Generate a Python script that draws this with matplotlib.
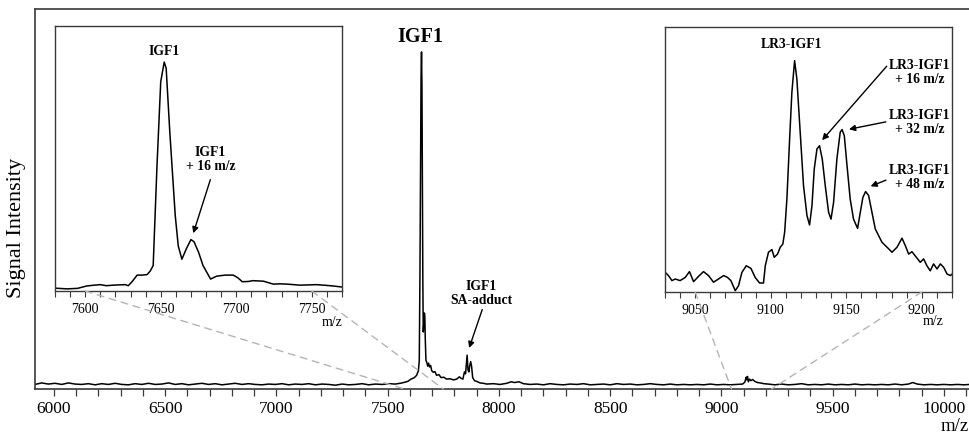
"""MALDI spectrum of IGF1 with two zoomed insets."""
import matplotlib
matplotlib.use("Agg")
import matplotlib.pyplot as plt
from matplotlib.patches import ConnectionPatch
from matplotlib.ticker import MultipleLocator

plt.rcParams["font.family"] = ["Liberation Serif", "DejaVu Serif"]

# Full spectrum (m/z, relative signal)
BASE_LEFT_MZ = [5915, 5945, 5975, 6005, 6035, 6065, 6095, 6125, 6155, 6185, 6215, 6245,
                6275, 6305, 6335, 6365, 6395, 6425, 6455, 6485, 6515, 6545, 6575, 6605,
                6635, 6665, 6695, 6725, 6755, 6785, 6815, 6845, 6875, 6905, 6935, 6965,
                6995, 7025, 7055, 7085, 7115, 7145, 7175, 7205, 7235, 7265, 7295, 7325,
                7355, 7385, 7415, 7445, 7475, 7505, 7535, 7565, 7590]
BASE_LEFT_INT = [.012, .016, .013, .015, .012, .016, .013, .012, .014, .011, .014, .012,
                 .015, .012, .011, .014, .012, .015, .012, .013, .016, .012, .014, .011,
                 .013, .015, .012, .014, .011, .013, .015, .012, .014, .012, .011, .013,
                 .012, .014, .011, .013, .012, .014, .011, .013, .012, .010, .013, .011,
                 .012, .014, .011, .013, .012, .014, .013, .016, .020]

PEAK_MZ = [7605, 7620, 7630, 7638, 7642, 7645, 7648, 7650, 7652, 7654, 7656, 7658,
           7660, 7663, 7665, 7667, 7669, 7672, 7676, 7680, 7684, 7688, 7693, 7698,
           7705, 7712, 7720, 7730, 7740, 7752, 7765, 7780, 7795, 7810, 7822, 7830,
           7838, 7845, 7850, 7854, 7857, 7861, 7865, 7869, 7873, 7877, 7882, 7890,
           7900, 7915, 7930]
PEAK_INT = [.026, .030, .036, .048, .075, .30, .62, .82, .887, .80, .55, .28,
            .15, .18, .20, .19, .13, .075, .070, .060, .068, .058, .062, .048,
            .044, .046, .036, .038, .030, .031, .026, .027, .024, .026, .032, .028,
            .026, .045, .040, .070, .089, .050, .045, .062, .072, .060, .030, .022,
            .020, .016, .015]

BASE_RIGHT_MZ = [7945, 7975, 8005, 8035, 8055, 8070, 8090, 8110, 8140, 8170, 8200, 8230,
                 8260, 8290, 8320, 8350, 8380, 8410, 8440, 8470, 8500, 8530, 8560, 8590,
                 8620, 8650, 8680, 8710, 8740, 8770, 8800, 8830, 8860, 8890, 8920, 8950,
                 8980, 9010, 9040, 9070, 9095, 9105, 9111, 9114, 9117, 9121, 9126, 9132,
                 9140, 9150, 9162, 9175, 9190, 9210, 9240, 9270, 9300, 9330, 9360, 9390,
                 9420, 9450, 9480, 9510, 9540, 9570, 9600, 9630, 9660, 9690, 9720, 9750,
                 9780, 9810, 9840, 9860, 9880, 9910, 9940, 9970, 10000, 10030, 10060,
                 10090, 10115]
BASE_RIGHT_INT = [.013, .014, .012, .015, .019, .017, .019, .014, .012, .013, .011, .014,
                  .012, .011, .013, .012, .014, .011, .012, .013, .011, .014, .012, .013,
                  .011, .012, .014, .012, .011, .013, .011, .012, .011, .012, .011, .013,
                  .011, .012, .011, .012, .013, .018, .031, .024, .033, .019, .026, .022,
                  .025, .020, .017, .016, .014, .013, .011, .013, .011, .012, .014, .011,
                  .012, .011, .013, .011, .012, .011, .013, .011, .012, .011, .012, .011,
                  .013, .011, .013, .017, .013, .011, .012, .011, .012, .011, .012,
                  .011, .012]

# Left inset: IGF1 region
IGF1_MZ = [7579.5, 7588, 7595, 7601, 7606, 7610, 7614, 7618.5, 7622, 7626.5, 7628.5,
           7631, 7634.4, 7638, 7641, 7643, 7645, 7647.5, 7650, 7652.3, 7653.6, 7656,
           7659.6, 7661.6, 7664, 7667, 7670, 7672, 7675, 7678, 7683, 7687, 7692.7,
           7698, 7701, 7704, 7708, 7711, 7718, 7724.5, 7729, 7733.6, 7738, 7742, 7748,
           7753, 7758, 7764, 7770]
IGF1_INT = [.011, .008, .010, .019, .022, .024, .020, .022, .023, .024, .020,
            .035, .060, .060, .062, .075, .096, .47, .79, .864, .84, .60,
            .285, .17, .12, .16, .194, .186, .147, .096, .045, .056, .060,
            .060, .050, .035, .036, .039, .037, .026, .027, .026, .024, .022, .023,
            .024, .022, .019, .015]

# Right inset: LR3-IGF1 region
LR3_MZ = [9030.1, 9032.3, 9034.6, 9036.8, 9040, 9043.4, 9046.2, 9048.9, 9052.2, 9055.5,
          9058.8, 9062.1, 9065.4, 9068.8, 9071.4, 9073.6, 9076.5, 9078.7, 9080.9, 9083.8,
          9086.9, 9089.7, 9092.6, 9095.2, 9096.4, 9098.5, 9100.8, 9102.3, 9104.5, 9106.3,
          9108, 9109.2, 9110.7, 9112.5, 9114, 9115.8, 9117.3, 9119.5, 9121.7, 9124,
          9125.7, 9127.3, 9128.8, 9130.6, 9132.3, 9134.1, 9136.1, 9138.3, 9139.9, 9141.6,
          9143.8, 9146, 9147.2, 9148.7, 9150.5, 9152.6, 9154.8, 9157.5, 9159.3, 9161,
          9162.8, 9164.8, 9167, 9169.2, 9171.4, 9173.6, 9177, 9180.3, 9183.6, 9186.9,
          9189.1, 9191.3, 9193.5, 9196.4, 9199, 9201.2, 9203.4, 9205.6, 9207.8, 9210.1,
          9212.3, 9214.5, 9216.7, 9218.9, 9221]
LR3_INT = [.074, .062, .043, .049, .043, .055, .077, .039, .059, .077,
           .062, .037, .049, .062, .055, .043, .005, .024, .074, .099,
           .089, .055, .034, .034, .099, .150, .160, .131, .143, .169,
           .181, .225, .351, .577, .754, .873, .804, .603, .401, .288,
           .253, .326, .464, .540, .552, .502, .401, .301, .275, .338,
           .502, .603, .613, .590, .477, .351, .275, .240, .301, .357,
           .379, .364, .301, .238, .213, .188, .169, .150, .169, .203,
           .175, .143, .152, .131, .112, .125, .099, .080, .106, .087,
           .106, .093, .068, .062, .072]

W, H = 970, 435
LINE_GREY = "#b4b4b4"
SPINE = "#3a3a3a"
ARROW = dict(arrowstyle="-|>", color="black", lw=1, mutation_scale=9)


def frac(x0, y0, x1, y1):
    # pixel box -> figure fraction rect
    return [x0 / W, 1 - y1 / H, (x1 - x0) / W, (y1 - y0) / H]


fig = plt.figure(figsize=(W / 100, H / 100), dpi=100)

ax = fig.add_axes(frac(35, 10, 970, 390))
ax.plot(BASE_LEFT_MZ + PEAK_MZ + BASE_RIGHT_MZ, BASE_LEFT_INT + PEAK_INT + BASE_RIGHT_INT,
        color="black", lw=1.1)
ax.set_xlim(5915, 10117)
ax.set_ylim(0, 1)
ax.spines["right"].set_visible(False)
for s in ("left", "top", "bottom"):
    ax.spines[s].set_color(SPINE)
    ax.spines[s].set_linewidth(1.2)
ax.set_yticks([])
ax.xaxis.set_major_locator(MultipleLocator(500))
ax.xaxis.set_minor_locator(MultipleLocator(100))
ax.tick_params(axis="x", which="both", direction="out", length=5, width=0.9,
               color=SPINE, labelsize=12.5, pad=3)
ax.text(7645, 0.929, "IGF1", ha="center", va="center", fontsize=14.5, fontweight="bold")
ax.text(7922, 0.254, "IGF1\nSA-adduct", ha="center", va="center", fontsize=9.8,
        fontweight="bold", linespacing=1.05)
ax.annotate("", xy=(7862, 0.101), xytext=(7929, 0.216), arrowprops=ARROW)
fig.text(17 / W, 1 - 228 / H, "Signal Intensity", rotation=90, ha="center", va="center",
         fontsize=16)
fig.text(955 / W, 1 - 427 / H, "m/z", ha="center", va="center", fontsize=13.5)


def style_inset(a, lo, hi):
    a.set_xlim(lo, hi)
    a.set_ylim(0, 1)
    a.set_yticks([])
    a.xaxis.set_major_locator(MultipleLocator(50))
    a.xaxis.set_minor_locator(MultipleLocator(10))
    a.tick_params(axis="x", which="both", direction="out", length=4, width=0.8,
                  color=SPINE, labelsize=10, pad=4)
    for s in a.spines.values():
        s.set_color(SPINE)
        s.set_linewidth(1.0)


# left inset
axl = fig.add_axes(frac(55, 27, 342, 292))
axl.plot(IGF1_MZ, IGF1_INT, color="black", lw=1.1)
style_inset(axl, 7580, 7770)
axl.text(7652, 0.907, "IGF1", ha="center", va="center", fontsize=9.8, fontweight="bold")
axl.text(7683, 0.50, "IGF1\n+ 16 m/z", ha="center", va="center", fontsize=9.8,
         fontweight="bold", linespacing=1.05)
axl.annotate("", xy=(7671, 0.208), xytext=(7683.4, 0.43), arrowprops=ARROW)
fig.text(332 / W, 1 - 323 / H, "m/z", ha="center", va="center", fontsize=10)

# right inset
axr = fig.add_axes(frac(665, 28, 952, 293))
axr.plot(LR3_MZ, LR3_INT, color="black", lw=1.1)
style_inset(axr, 9030, 9220)
axr.text(9114, 0.936, "LR3-IGF1", ha="center", va="center", fontsize=9.8, fontweight="bold")
for ty, txt, start, tip in [
    (0.832, "LR3-IGF1\n+ 16 m/z", (9178, 0.860), (9132.8, 0.565)),
    (0.643, "LR3-IGF1\n+ 32 m/z", (9178, 0.644), (9150, 0.612)),
    (0.436, "LR3-IGF1\n+ 48 m/z", (9178, 0.426), (9164.4, 0.395)),
]:
    axr.text(9198.5, ty, txt, ha="center", va="center", fontsize=9.8, fontweight="bold",
             linespacing=1.05)
    axr.annotate("", xy=tip, xytext=start, arrowprops=ARROW)
fig.text(933 / W, 1 - 322 / H, "m/z", ha="center", va="center", fontsize=10)

# dashed zoom guides
for a, xa, xb in [(axl, 7600, 7575), (axl, 7750, 7750), (axr, 9050, 9045), (axr, 9200, 9225)]:
    con = ConnectionPatch(xyA=(xa, 0), coordsA=a.transData, xyB=(xb, 0), coordsB=ax.transData,
                          color=LINE_GREY, lw=1.0, linestyle=(0, (5, 4)))
    fig.add_artist(con)

fig.savefig("out.png", dpi=100)
